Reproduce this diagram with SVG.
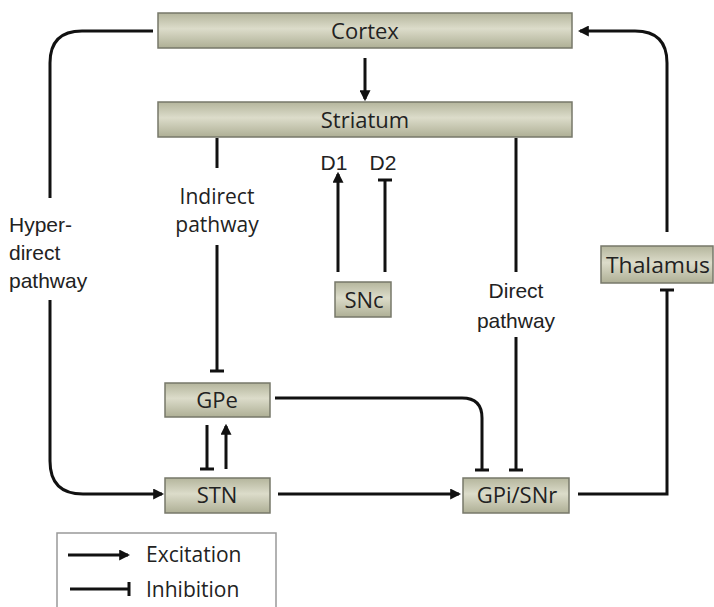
<svg xmlns="http://www.w3.org/2000/svg" width="714" height="607" viewBox="0 0 714 607">
<defs>
<linearGradient id="boxfill" x1="0" y1="0" x2="0" y2="1">
<stop offset="0" stop-color="#b4b59c"/>
<stop offset="0.45" stop-color="#dcdcca"/>
<stop offset="1" stop-color="#aeaf95"/>
</linearGradient>
<marker id="arrow" viewBox="0 0 10 10" refX="8" refY="5" markerWidth="11" markerHeight="11" markerUnits="userSpaceOnUse" orient="auto">
<path d="M0,0 L10,5 L0,10 z" fill="#111"/>
</marker>
<marker id="tee" viewBox="0 0 4 16" refX="2" refY="8" markerWidth="4" markerHeight="16" markerUnits="userSpaceOnUse" orient="auto">
<rect x="0.5" y="1" width="3" height="14" fill="#111"/>
</marker>
</defs>
<style>
.box{fill:url(#boxfill);stroke:#77786a;stroke-width:1.5}
.lbl{font-family:"Open Sans","Noto Sans",sans-serif;font-size:22px;fill:#222;text-anchor:middle;dominant-baseline:central}
.ar{font-family:"Liberation Sans",Arial,sans-serif;font-size:21px;fill:#222}
.hum{font-family:"Open Sans","Noto Sans",sans-serif;font-size:21px;fill:#222}
.c{fill:none;stroke:#111;stroke-width:3}
.ex{marker-end:url(#arrow)}
.in{marker-end:url(#tee)}
</style>
<rect width="714" height="607" fill="#fff"/>
<g id="connectors">
<path class="c ex" d="M365,58 L365,99"/>
<path class="c" d="M153,31 L82,31 Q50,31 50,63 L50,198"/>
<path class="c ex" d="M50,300 L50,461 Q50,494 83,494 L162,494"/>
<path class="c" d="M217,138 L217,168"/>
<path class="c in" d="M217,245 L217,371"/>
<path class="c ex" d="M338,272 L338,174"/>
<path class="c in" d="M385,272 L385,180"/>
<path class="c" d="M516,138 L516,272"/>
<path class="c in" d="M516,337 L516,470"/>
<path class="c in" d="M275,398 L462,398 Q482,398 482,418 L482,470"/>
<path class="c ex" d="M278,494 L459,494"/>
<path class="c in" d="M207,425 L207,469"/>
<path class="c ex" d="M226,469 L226,426"/>
<path class="c in" d="M578,494 L667,494 L667,290"/>
<path class="c ex" d="M667,232 L667,63 Q667,31 635,31 L580,31"/>
</g>
<g id="cortex"><rect class="box" x="158" y="13" width="414" height="35"/><text class="lbl" x="365" y="30">Cortex</text></g>
<g id="striatum"><rect class="box" x="158" y="102" width="414" height="35"/><text class="lbl" x="365" y="119">Striatum</text></g>
<g id="snc"><rect class="box" x="335" y="282" width="56" height="35"/><text class="lbl" x="364" y="299">SNc</text></g>
<g id="thalamus"><rect class="box" x="601" y="246" width="112" height="37"/><text class="lbl" x="658" y="264" textLength="104" lengthAdjust="spacingAndGlyphs">Thalamus</text></g>
<g id="gpe"><rect class="box" x="165" y="383" width="105" height="34"/><text class="lbl" x="217" y="399">GPe</text></g>
<g id="stn"><rect class="box" x="165" y="478" width="105" height="35"/><text class="lbl" x="217" y="494">STN</text></g>
<g id="gpi"><rect class="box" x="463" y="478" width="106" height="35"/><text class="lbl" x="517" y="494">GPi/SNr</text></g>
<g id="labels">
<text class="ar" x="334" y="170" text-anchor="middle" font-size="19">D1</text>
<text class="ar" x="383" y="170" text-anchor="middle" font-size="19">D2</text>
<text class="hum" x="217" y="204" text-anchor="middle">Indirect</text>
<text class="hum" x="217" y="232" text-anchor="middle">pathway</text>
<text class="ar" x="516" y="298" text-anchor="middle">Direct</text>
<text class="ar" x="516" y="328" text-anchor="middle">pathway</text>
<text class="ar" x="9" y="232">Hyper-</text>
<text class="ar" x="9" y="260">direct</text>
<text class="ar" x="9" y="288">pathway</text>
</g>
<g id="legend">
<rect x="57" y="533" width="219" height="90" fill="#fff" stroke="#999" stroke-width="1.5"/>
<path class="c ex" d="M68,555 L128,555"/>
<path class="c in" d="M70,589 L129,589"/>
<text class="hum" x="146" y="562">Excitation</text>
<text class="hum" x="146" y="597">Inhibition</text>
</g>
</svg>
